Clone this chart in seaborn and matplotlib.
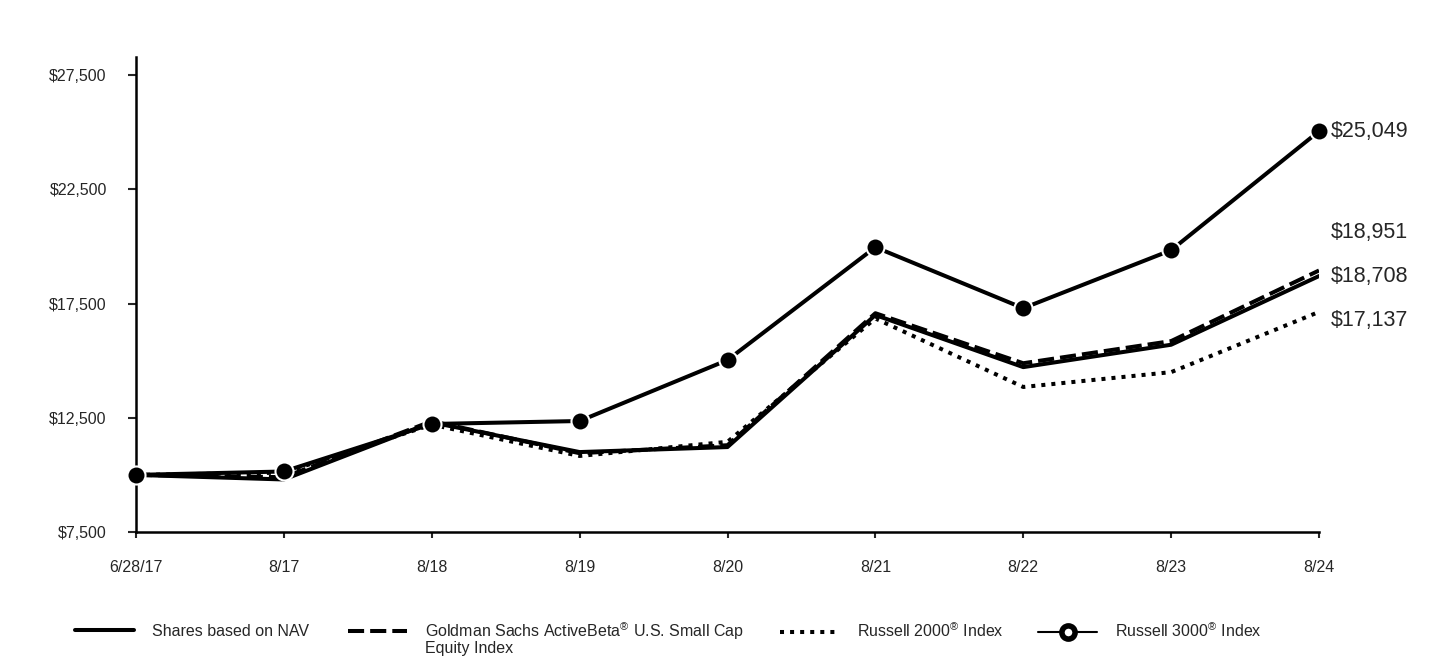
import numpy as np
import pandas as pd
import matplotlib
matplotlib.use("Agg")
import matplotlib.pyplot as plt
from matplotlib.lines import Line2D
from matplotlib.ticker import FuncFormatter
import seaborn as sns

# ── Data ─────────────────────────────────────────────────────────────────────
dates = ["6/28/17", "8/17", "8/18", "8/19", "8/20", "8/21", "8/22", "8/23", "8/24"]
nav = [10000, 9800, 12300, 11000, 11220, 17000, 14720, 15700, 18708]
gs_index = [10000, 9900, 12350, 10950, 11300, 17080, 14890, 15860, 18951]
r2000 = [10000, 10100, 12200, 10830, 11450, 16850, 13850, 14500, 17137]
r3000 = [10000, 10150, 12230, 12360, 15030, 19970, 17300, 19840, 25049]
y_ticks = [7500, 12500, 17500, 22500, 27500]

LABEL_NAV = "Shares based on NAV"
LABEL_GS = "Goldman Sachs ActiveBeta$^{\\circledR}$ U.S. Small Cap"
LABEL_GS_2 = "Equity Index"
LABEL_R2 = "Russell 2000$^{\\circledR}$ Index"
LABEL_R3 = "Russell 3000$^{\\circledR}$ Index"

sns.set_style("white")
plt.rcParams["font.family"] = ["Liberation Sans", "DejaVu Sans"]
plt.rcParams["mathtext.fontset"] = "custom"
plt.rcParams["mathtext.rm"] = "Liberation Sans"
plt.rcParams["mathtext.it"] = "Liberation Sans"
plt.rcParams["mathtext.bf"] = "Liberation Sans"

FS = 11.5
x = np.arange(len(dates))
df = pd.DataFrame({"x": x, "nav": nav, "gs": gs_index, "r2": r2000, "r3": r3000})

fig = plt.figure(figsize=(14.4, 6.6), dpi=100)
ax = fig.add_axes([136 / 1440, 1 - 532 / 660, (1319 - 136) / 1440, (532 - 57) / 660])

LW = 2.9
DASH = (0, (4.0, 1.5))
DOT = (0, (1, 1.5))
sns.lineplot(data=df, x="x", y="nav", ax=ax, color="black", lw=LW)
sns.lineplot(data=df, x="x", y="gs", ax=ax, color="black", lw=LW, linestyle=DASH)
sns.lineplot(data=df, x="x", y="r2", ax=ax, color="black", lw=LW, linestyle=DOT)
sns.lineplot(data=df, x="x", y="r3", ax=ax, color="black", lw=LW,
             marker="o", markersize=13, markerfacecolor="black",
             markeredgecolor="white", markeredgewidth=1.5, clip_on=False, zorder=5)

ax.set_xlim(0, len(dates) - 1)
ax.set_ylim(7500, 28300)
ax.set_xticks(x)
ax.set_xticklabels(dates)
ax.set_yticks(y_ticks)
ax.yaxis.set_major_formatter(FuncFormatter(lambda v, _: f"${v:,.0f}"))
ax.set_xlabel("")
ax.set_ylabel("")
ax.tick_params(axis="y", direction="out", length=6, width=1.5, pad=15, labelsize=FS)
ax.tick_params(axis="x", direction="out", length=4.5, width=1.5, pad=16, labelsize=FS)
ax.tick_params(left=True, bottom=True)
for side in ["top", "right"]:
    ax.spines[side].set_visible(False)
for side in ["left", "bottom"]:
    ax.spines[side].set_linewidth(1.8)
    ax.spines[side].set_color("black")
ax.grid(False)

# ── End labels ───────────────────────────────────────────────────────────────
last = len(dates) - 1
end_labels = [(r3000[-1], 0), (gs_index[-1], 27), (nav[-1], 0), (r2000[-1], -6)]
for val, dy in end_labels:
    ax.annotate(f"${val:,.0f}", xy=(last, val), xytext=(8.5, dy),
                textcoords="offset points", ha="left", va="center",
                fontsize=15.5, annotation_clip=False)

# ── Legend ───────────────────────────────────────────────────────────────────
LEG_Y = 1 - 631 / 660
handles = [
    (Line2D([], [], color="black", lw=LW), LABEL_NAV, 75),
    (Line2D([], [], color="black", lw=LW, linestyle=DASH), LABEL_GS, 348),
    (Line2D([], [], color="black", lw=LW, linestyle=DOT), LABEL_R2, 780),
    (Line2D([], [], color="black", lw=1.5, marker="o", markersize=9.5,
            markerfacecolor="white", markeredgecolor="black", markeredgewidth=4),
     LABEL_R3, 1038),
]
for h, lab, px in handles:
    fig.legend([h], [lab], loc="center left",
               bbox_to_anchor=(px / 1440, LEG_Y),
               frameon=False, fontsize=FS, borderpad=0, borderaxespad=0,
               handlelength=3.7, handletextpad=1.1)
fig.text(425 / 1440, 1 - 648 / 660, LABEL_GS_2, fontsize=FS, ha="left", va="center")

fig.savefig("out.png", dpi=100, facecolor="white")
